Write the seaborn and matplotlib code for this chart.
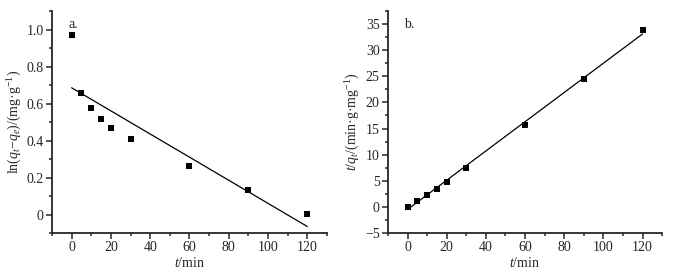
import matplotlib
matplotlib.use("Agg")
import matplotlib.pyplot as plt
from matplotlib.ticker import MultipleLocator
import seaborn as sns
import pandas as pd

# time points (min)
t = [0, 5, 10, 15, 20, 30, 60, 90, 120]
# a. pseudo-first-order: ln(qt - qe)
ln_q = [0.97, 0.655, 0.578, 0.518, 0.465, 0.41, 0.26, 0.13, 0.005]
# b. pseudo-second-order: t/qt
t_over_q = [0.0, 1.1, 2.3, 3.5, 4.8, 7.4, 15.6, 24.4, 33.8]

# fitted lines, endpoints
fit_t = [0, 120]
fit_a = [0.685, -0.065]
fit_b = [-0.5, 33.1]

sns.set_style("ticks")
plt.rcParams['font.family'] = ['Liberation Serif', 'DejaVu Serif']
plt.rcParams['mathtext.fontset'] = 'custom'
plt.rcParams['mathtext.rm'] = 'Liberation Serif'
plt.rcParams['mathtext.it'] = 'Liberation Serif:italic'

df = pd.DataFrame({'t': t, 'a': ln_q, 'b': t_over_q})
fit = pd.DataFrame({'t': fit_t, 'a': fit_a, 'b': fit_b})

fig = plt.figure(figsize=(6.77, 2.73), dpi=100)
ax1 = fig.add_axes([0.0768, 0.1465, 0.4062, 0.8132])
ax2 = fig.add_axes([0.573, 0.1465, 0.405, 0.8132])

for ax, col in [(ax1, 'a'), (ax2, 'b')]:
    sns.lineplot(data=fit, x='t', y=col, ax=ax, color='black', lw=0.9)
    sns.scatterplot(data=df, x='t', y=col, ax=ax, marker='s', color='black',
                    s=20, edgecolor='black', linewidth=0, zorder=3)
    ax.set_xlim(-10, 130)
    ax.xaxis.set_major_locator(MultipleLocator(20))
    ax.xaxis.set_minor_locator(MultipleLocator(10))
    ax.set_xlabel(r'$t$/min', fontsize=10, labelpad=1)
    sns.despine(ax=ax)
    for s in ['left', 'bottom']:
        ax.spines[s].set_linewidth(1.3)
    ax.tick_params(which='major', length=4, width=1.1, labelsize=10, pad=2)
    ax.tick_params(which='minor', length=2.5, width=1.1)

ax1.set_ylim(-0.1, 1.1)
ax1.yaxis.set_major_locator(MultipleLocator(0.2))
ax1.yaxis.set_minor_locator(MultipleLocator(0.1))
ax1.set_yticks([0, 0.2, 0.4, 0.6, 0.8, 1.0])
ax1.set_yticklabels(['0', '0.2', '0.4', '0.6', '0.8', '1.0'])
ax1.set_ylabel(r'ln($q_t$−$q_e$)/(mg·g$^{-1}$)', fontsize=10, labelpad=2)
ax1.text(0.06, 0.97, 'a.', transform=ax1.transAxes, fontsize=10, va='top')

ax2.set_ylim(-5, 37.5)
ax2.yaxis.set_major_locator(MultipleLocator(5))
ax2.yaxis.set_minor_locator(MultipleLocator(2.5))
ax2.set_yticks(range(-5, 36, 5))
ax2.set_yticklabels(['−5'] + [str(v) for v in range(0, 36, 5)])
ax2.set_ylabel(r'$t$/$q_t$/(min·g·mg$^{-1}$)', fontsize=10, labelpad=2)
ax2.text(0.06, 0.97, 'b.', transform=ax2.transAxes, fontsize=10, va='top')

fig.savefig('out.png', dpi=100)
